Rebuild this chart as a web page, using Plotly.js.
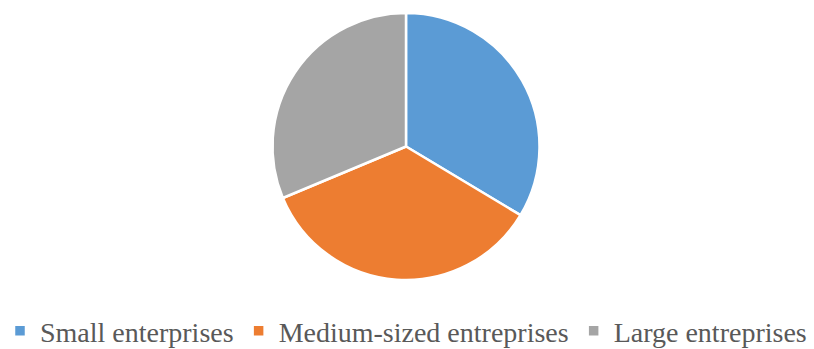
<!DOCTYPE html>
<html>
<head>
<meta charset="utf-8">
<script src="https://cdn.plot.ly/plotly-3.0.1.min.js"></script>
<style>html,body{margin:0;padding:0;background:#fff;overflow:hidden;}#chart{width:814px;height:356px;}</style>
</head>
<body>
<div id="chart"></div>
<script>
const categories = ["Small enterprises", "Medium-sized entreprises", "Large entreprises"];
const shares = [33.6, 35.1, 31.3];
const colors = ["#5B9BD5", "#ED7D31", "#A5A5A5"];

const trace = {
  type: "pie",
  labels: categories,
  values: shares,
  sort: false,
  direction: "clockwise",
  rotation: 0,
  textinfo: "none",
  hoverinfo: "label+percent",
  marker: {colors: colors, line: {color: "#ffffff", width: 2.5}}
};

const serif = "'Liberation Serif', 'Times New Roman', Times, serif";

const layout = {
  width: 814, height: 356,
  margin: {l: 0, r: 2, t: 13, b: 76},
  paper_bgcolor: "#ffffff",
  font: {family: serif, size: 28, color: "#595959"},
  showlegend: true,
  legend: {
    orientation: "h",
    x: 0.5, xanchor: "center",
    yref: "container", y: 0, yanchor: "bottom",
    font: {family: serif, size: 28, color: "#595959"},
    itemwidth: 30,
    tracegroupgap: 0
  }
};

Plotly.newPlot("chart", [trace], layout, {displayModeBar: false, staticPlot: true});
</script>
</body>
</html>
